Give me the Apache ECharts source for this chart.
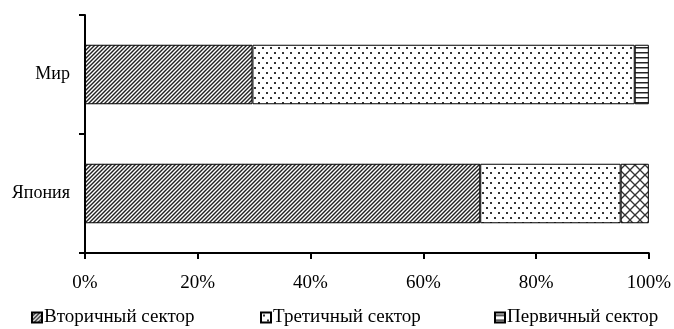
<!DOCTYPE html>
<html><head><meta charset="utf-8">
<script src="https://cdn.jsdelivr.net/npm/echarts@6/dist/echarts.min.js"></script>
<style>html,body{margin:0;padding:0;background:#fff}#c{width:674px;height:329px}</style>
</head><body><div id="c"></div>
<script>
const categories = ['Япония', 'Мир'];
const seriesNames = ['Вторичный сектор', 'Третичный сектор', 'Первичный сектор'];
const secondary = [70.1, 29.7];
const tertiary = [24.9, 67.8];
const primary = [5.0, 2.5];
const xTicks = [0, 20, 40, 60, 80, 100];

function pat(w, h, draw) {
  const c = document.createElement('canvas');
  c.width = w; c.height = h;
  const ctx = c.getContext('2d');
  ctx.fillStyle = '#fff'; ctx.fillRect(0, 0, w, h);
  draw(ctx, w, h);
  return { image: c, repeat: 'repeat' };
}
const hatch = pat(4, 4, (ctx) => {
  ctx.strokeStyle = '#222'; ctx.lineWidth = 1.4;
  ctx.beginPath(); ctx.moveTo(-1, 5); ctx.lineTo(5, -1); ctx.stroke();
  ctx.beginPath(); ctx.moveTo(-1, 1); ctx.lineTo(1, -1); ctx.stroke();
  ctx.beginPath(); ctx.moveTo(3, 5); ctx.lineTo(5, 3); ctx.stroke();
});
const dots = pat(8, 10, (ctx) => {
  ctx.fillStyle = '#333';
  ctx.fillRect(2, 2, 2, 2);
  ctx.fillRect(6, 7, 2, 2);
});
const horiz = pat(6, 5, (ctx) => {
  ctx.fillStyle = '#222';
  ctx.fillRect(0, 2, 6, 1.5);
});
const cross = pat(10, 10, (ctx) => {
  ctx.strokeStyle = '#333'; ctx.lineWidth = 1.3;
  ctx.beginPath(); ctx.moveTo(0, 0); ctx.lineTo(10, 10); ctx.stroke();
  ctx.beginPath(); ctx.moveTo(10, 0); ctx.lineTo(0, 10); ctx.stroke();
});

const font = 'Liberation Serif';
const chart = echarts.init(document.getElementById('c'));
const border = { borderColor: '#000', borderWidth: 1 };
const mkLegend = (name, left) => ({
  data: [name], left: left, top: 303, itemWidth: 10, itemHeight: 10, itemGap: 0,
  icon: 'rect', textStyle: { fontFamily: font, fontSize: 19, color: '#000', padding: [0, 0, 0, -3] }
});
chart.setOption({
  animation: false,
  grid: { left: 85, right: 24, top: 15, bottom: 76 },
  legend: [mkLegend(seriesNames[0], 26), mkLegend(seriesNames[1], 255), mkLegend(seriesNames[2], 489)],
  xAxis: {
    type: 'value', min: 0, max: 100, interval: 20,
    axisLine: { show: true, lineStyle: { color: '#000', width: 2 } },
    axisTick: { show: true, length: 6, lineStyle: { color: '#000', width: 2 } },
    splitLine: { show: false },
    axisLabel: { fontFamily: font, fontSize: 19, color: '#000', margin: 21, formatter: v => v + '%' }
  },
  yAxis: {
    type: 'category', data: categories,
    axisLine: { show: true, lineStyle: { color: '#000', width: 2 } },
    axisTick: { show: true, length: 6, lineStyle: { color: '#000', width: 2 } },
    axisLabel: { fontFamily: font, fontSize: 18, color: '#000', margin: 15 }
  },
  series: [
    { name: seriesNames[0], type: 'bar', stack: 's', barWidth: '50%', data: secondary,
      itemStyle: Object.assign({ color: hatch }, border) },
    { name: seriesNames[1], type: 'bar', stack: 's', data: tertiary,
      itemStyle: Object.assign({ color: dots }, border) },
    { name: seriesNames[2], type: 'bar', stack: 's',
      data: [{ value: primary[0], itemStyle: { color: cross } }, primary[1]],
      itemStyle: Object.assign({ color: horiz }, border) }
  ]
});
</script></body></html>
